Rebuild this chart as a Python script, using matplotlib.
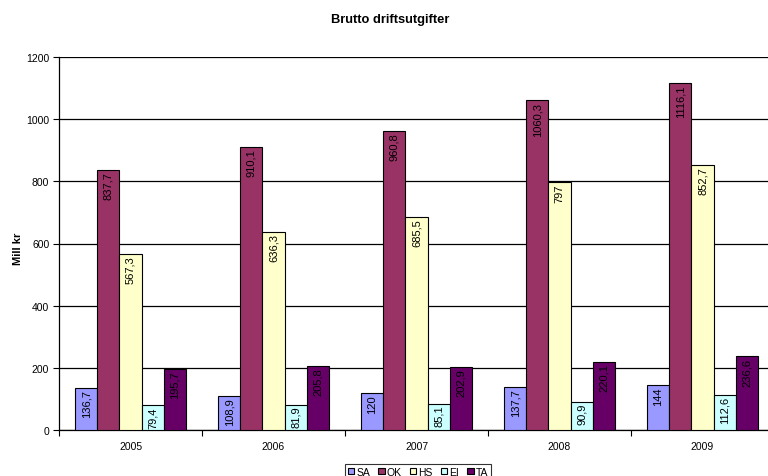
import numpy as np
import matplotlib.pyplot as plt
from matplotlib.ticker import FixedLocator, NullFormatter

plt.rcParams['font.family'] = ['Liberation Sans', 'DejaVu Sans']

# Brutto driftsutgifter per område, mill kr
years = ["2005", "2006", "2007", "2008", "2009"]
series = ["SA", "OK", "HS", "EI", "TA"]
sa = [136.7, 108.9, 120, 137.7, 144]
ok = [837.7, 910.1, 960.8, 1060.3, 1116.1]
hs = [567.3, 636.3, 685.5, 797, 852.7]
ei = [79.4, 81.9, 85.1, 90.9, 112.6]
ta = [195.7, 205.8, 202.9, 220.1, 236.6]
colors = ["#9999FF", "#993366", "#FFFFCC", "#CCFFFF", "#660066"]

values = [sa, ok, hs, ei, ta]

fig = plt.figure(figsize=(7.68, 4.77), dpi=100)
ax = fig.add_axes([59 / 768, 46 / 477, 709 / 768, 373 / 477])

x = np.arange(len(years))
w = 0.154
for i, (name, vals, c) in enumerate(zip(series, values, colors)):
    pos = x + (i - 2) * w
    ax.bar(pos, vals, width=w, color=c, edgecolor="black", linewidth=0.8,
           label=name, zorder=3)
    for p, v in zip(pos, vals):
        txt = f"{v:g}".replace(".", ",")
        ax.text(p, v - 4, txt, rotation=90, ha="center", va="top",
                fontsize=8, zorder=4)

ax.set_ylim(0, 1200)
ax.set_yticks(np.arange(0, 1201, 200))
ax.set_xlim(-0.5, -0.5 + 709 / 143)
ax.yaxis.grid(True, color="black", linewidth=0.9, zorder=0)
ax.set_axisbelow(True)

# category boundaries as ticks, labels at the centers
ax.xaxis.set_major_locator(FixedLocator(np.arange(-0.5, 5.0, 1.0)))
ax.xaxis.set_major_formatter(NullFormatter())
ax.xaxis.set_minor_locator(FixedLocator(x))
ax.set_xticklabels(years, minor=True)
ax.tick_params(axis="x", which="minor", length=0, pad=8, labelsize=7.5)
ax.tick_params(axis="x", which="major", length=4, direction="out", width=0.8)
ax.tick_params(axis="y", length=4, width=0.8, labelsize=7.5, pad=3)

for s in ["top", "right"]:
    ax.spines[s].set_visible(False)
for s in ["left", "bottom"]:
    ax.spines[s].set_color("black")
    ax.spines[s].set_linewidth(0.9)

ax.set_ylabel("Mill kr", fontsize=8, fontweight="bold")
ax.yaxis.set_label_coords(-36 / 709, 0.488)
fig.text(390 / 768, 1 - 20 / 477, "Brutto driftsutgifter", ha="center",
         va="center", fontsize=9.3, fontweight="bold")

leg = fig.legend(loc="upper center", bbox_to_anchor=(418 / 768, 1 - 465 / 477),
                 ncol=5, fontsize=7.5, frameon=True, fancybox=False,
                 handlelength=0.6, handleheight=0.6, handletextpad=0.2,
                 columnspacing=0.8, borderpad=0.25, borderaxespad=0)
leg.get_frame().set_edgecolor("black")
leg.get_frame().set_linewidth(0.8)

fig.savefig("out.png", dpi=100)
